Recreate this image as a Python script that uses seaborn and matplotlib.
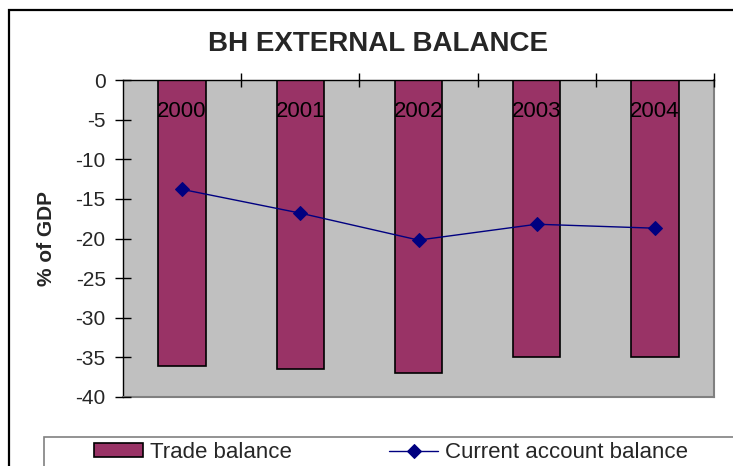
import matplotlib
matplotlib.use("Agg")
import matplotlib.pyplot as plt
import matplotlib.patches as mpatches
import seaborn as sns
import numpy as np
import pandas as pd

years = ["2000", "2001", "2002", "2003", "2004"]
trade_balance = [-36.1, -36.5, -37.0, -35.0, -35.0]
current_account = [-13.8, -16.8, -20.2, -18.2, -18.7]
y_ticks = [0, -5, -10, -15, -20, -25, -30, -35, -40]
series_names = ["Trade balance", "Current account balance"]

sns.set_style("ticks")
plt.rcParams["font.family"] = ["Liberation Sans", "DejaVu Sans"]
plt.rcParams["axes.unicode_minus"] = False

W, H = 733, 466
fig = plt.figure(figsize=(W / 100, H / 100), dpi=100)
fig.patch.set_facecolor("white")

def fx(px):
    return px / W

def fy(py):
    return 1 - py / H

L, R, T, B = 123, 714, 80, 397
ax = fig.add_axes([fx(L), fy(B), fx(R - L), (B - T) / H])
ax.set_facecolor("#C0C0C0")

df = pd.DataFrame({"year": years, "trade": trade_balance, "current": current_account})

sns.barplot(data=df, x="year", y="trade", color="#993366", saturation=1,
            edgecolor="black", linewidth=1.2, width=0.4, ax=ax,
            label=series_names[0], errorbar=None)
sns.pointplot(data=df, x="year", y="current", color="#000080", markers="D",
              linestyles="-", markersize=7, linewidth=1.0, ax=ax,
              label=series_names[1], errorbar=None)

if ax.get_legend() is not None:
    ax.get_legend().remove()

ax.set_axisbelow(False)
ax.set_xlim(-0.5, len(years) - 0.5)
ax.set_ylim(-40, 0)
ax.set_yticks(y_ticks)
ax.set_yticklabels([str(t) for t in y_ticks])

# x axis at top (value 0): year labels inside plot, boundary ticks crossing
ax.xaxis.tick_top()
ax.set_xticks(range(len(years)))
ax.set_xticklabels(years)
ax.set_xticks(np.arange(len(years)) + 0.5, minor=True)
ax.tick_params(axis="x", which="major", top=True, bottom=False, labeltop=True,
               labelbottom=False, length=0, pad=-30.5, labelsize=16, labelcolor="black")
ax.tick_params(axis="x", which="minor", top=True, bottom=False, direction="inout",
               length=10, width=1, color="black")
ax.tick_params(axis="y", which="major", direction="inout", length=11, width=1,
               color="black", pad=7, labelsize=15)
ax.set_xlabel("")

ax.set_ylabel("% of GDP", fontsize=15, fontweight="bold")
ax.yaxis.label.set_va("center")
ax.yaxis.set_label_coords((46 - L) / (R - L), 0.5)

for s in ["left", "top"]:
    ax.spines[s].set_color("black")
    ax.spines[s].set_linewidth(1.0)
for s in ["right", "bottom"]:
    ax.spines[s].set_color("#808080")
    ax.spines[s].set_linewidth(1.5)
    ax.spines[s].set_visible(True)

# Title
fig.text(fx(378.5), fy(44), "BH EXTERNAL BALANCE", ha="center", va="center",
         fontsize=20, fontweight="bold")

# Outer chart border (extends past right/bottom edges)
fig.patches.append(mpatches.Rectangle((fx(9), fy(480)), fx(740 - 9), (480 - 10) / H,
                                      transform=fig.transFigure, fill=False,
                                      edgecolor="black", linewidth=1.6, clip_on=False))

# Legend
handles, labels = ax.get_legend_handles_labels()
order = [labels.index(n) for n in series_names]
handles = [handles[i] for i in order]
labels = [labels[i] for i in order]
leg = fig.legend(handles, labels, loc="center left",
                 bbox_to_anchor=(fx(94), fy(452.5)), ncol=2, frameon=False,
                 fontsize=16, handlelength=2.2, handleheight=0.6,
                 handletextpad=0.3, columnspacing=4.4, borderpad=0,
                 borderaxespad=0)
fig.patches.append(mpatches.Rectangle((fx(44), fy(480)), fx(760 - 44), (480 - 437) / H,
                                      transform=fig.transFigure, fill=False,
                                      edgecolor="#808080", linewidth=1.2, clip_on=False))

fig.savefig("out.png", dpi=100)
